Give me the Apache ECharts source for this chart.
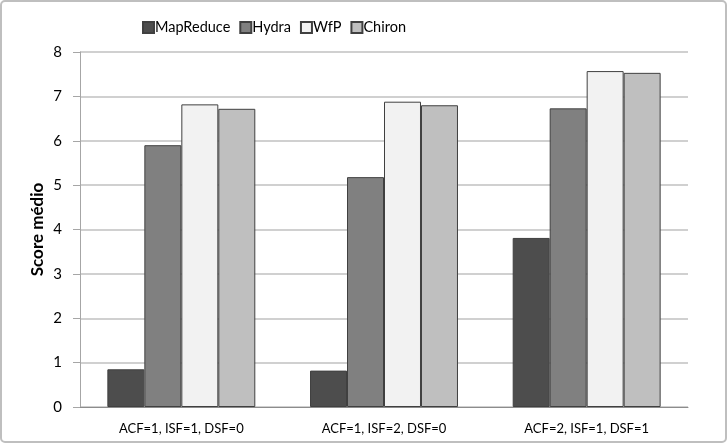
<!DOCTYPE html>
<html><head><meta charset="utf-8">
<script src="https://cdn.jsdelivr.net/npm/echarts@6/dist/echarts.min.js"></script>
<style>html,body{margin:0;padding:0;background:#fff}#c{width:728px;height:444px}</style>
</head><body><div id="c"></div>
<script>
const categories = ['ACF=1, ISF=1, DSF=0', 'ACF=1, ISF=2, DSF=0', 'ACF=2, ISF=1, DSF=1'];
const seriesNames = ['MapReduce', 'Hydra', 'WfP', 'Chiron'];
const mapReduce = [0.85, 0.82, 3.81];
const hydra = [5.90, 5.18, 6.73];
const wfp = [6.82, 6.88, 7.57];
const chiron = [6.72, 6.80, 7.53];
const colors = ['#4d4d4d', '#808080', '#f2f2f2', '#bfbfbf'];
const values = [mapReduce, hydra, wfp, chiron];
const font = 'Lato, "Open Sans", sans-serif';
const chart = echarts.init(document.getElementById('c'), null, {renderer: 'canvas'});
chart.setOption({
  animation: false,
  graphic: [{type: 'rect', shape: {x: 1, y: 1, width: 725, height: 441, r: 4}, style: {fill: 'none', stroke: '#bfbfbf', lineWidth: 2}, z: -1}],
  legend: {
    top: 15, left: 137, itemWidth: 11, itemHeight: 11, itemGap: 9,
    icon: 'rect',
    textStyle: {fontFamily: font, fontSize: 14.5, color: '#000', padding: [0, 0, 0, -4]},
    data: seriesNames
  },
  grid: {left: 80, right: 40, top: 52, bottom: 37},
  xAxis: {
    type: 'category', data: categories,
    axisLine: {lineStyle: {color: '#8c8c8c', width: 1}},
    axisTick: {show: false},
    axisLabel: {fontFamily: font, fontSize: 13, color: '#000', margin: 15}
  },
  yAxis: {
    type: 'value', min: 0, max: 8, interval: 1,
    name: 'Score médio', nameLocation: 'middle', nameGap: 34, nameMoveOverlap: false,
    nameTextStyle: {fontFamily: font, fontSize: 17, fontWeight: 'bold', color: '#000'},
    axisLine: {show: true, lineStyle: {color: '#a6a6a6'}},
    axisTick: {show: true, length: 7, lineStyle: {color: '#a6a6a6'}},
    axisLabel: {fontFamily: font, fontSize: 15, color: '#000', margin: 18},
    splitLine: {lineStyle: {color: '#c0c0c0', width: 1.5}}
  },
  series: seriesNames.map((n, i) => ({
    name: n, type: 'bar', data: values[i],
    barGap: '0%', barCategoryGap: '27%',
    itemStyle: {color: colors[i], borderColor: '#404040', borderWidth: 1}
  }))
});
</script></body></html>
